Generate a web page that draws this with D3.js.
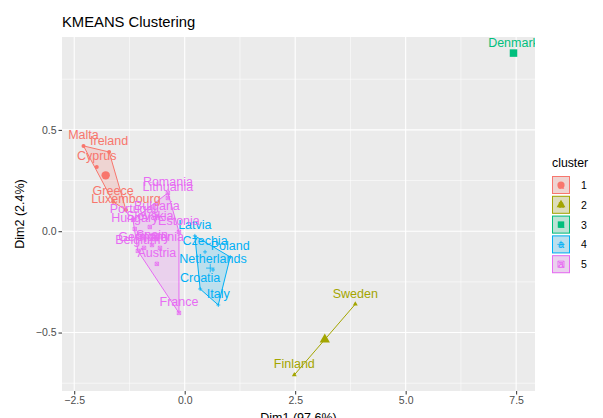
<!DOCTYPE html>
<html>
<head>
<meta charset="utf-8">
<script src="https://cdn.jsdelivr.net/npm/d3@7"></script>
<style>
  body { margin: 0; background: #fff; }
  text { font-family: "Liberation Sans", Arial, sans-serif; }
</style>
</head>
<body>
<svg id="svg-kmeans"></svg>
<script>
var width = 603,
    height = 418;

// PCA coordinates
var countries = ['Malta','Ireland','Cyprus','Greece','Luxembourg',
                 'Sweden','Finland',
                 'Denmark',
                 'Latvia','Czechia','Poland','Netherlands','Croatia','Italy',
                 'Romania','Lithuania','Bulgaria','Portugal','Slovakia','Hungary','Estonia',
                 'Slovenia','Belgium','Germany','Spain','Austria','France'];
var cluster = [1,1,1,1,1, 2,2, 3, 4,4,4,4,4,4, 5,5,5,5,5,5,5,5,5,5,5,5,5];
var dim1 = [-2.29,-1.71,-1.99,-1.62,-1.33,
            3.86,2.48,
            7.44,
            0.23,0.46,1.03,0.64,0.35,0.76,
            -0.38,-0.38,-0.63,-1.17,-0.79,-1.13,-0.13,
            -0.56,-1.06,-0.92,-0.74,-0.63,-0.13];
var dim2 = [0.421,0.391,0.317,0.145,0.105,
            -0.360,-0.709,
            0.879,
            -0.023,-0.102,-0.127,-0.191,-0.285,-0.364,
            0.189,0.164,0.075,0.056,0.021,0.011,-0.003,
            -0.082,-0.097,-0.082,-0.068,-0.161,-0.403];
var clusterIds = [1,2,3,4,5];
var clusterColors = ['#F8766D','#A3A500','#00BF7D','#00B0F6','#E76BF3'];
var xTicks = [-2.5, 0, 2.5, 5, 7.5];
var yTicks = [-0.5, 0, 0.5];

var panel = {left: 62, right: 535, top: 37, bottom: 391};

function padded(vals) {
  var mn = d3.min(vals), mx = d3.max(vals), pad = (mx - mn) * 0.05;
  return [mn - pad, mx + pad];
}

var x = d3.scaleLinear().domain(padded(dim1)).range([panel.left, panel.right]);
var y = d3.scaleLinear().domain(padded(dim2)).range([panel.bottom, panel.top]);
var color = d3.scaleOrdinal().domain(clusterIds).range(clusterColors);

var pts = countries.map(function(c, i) {
  return {name: c, cl: cluster[i], x: dim1[i], y: dim2[i]};
});

var svg = d3.select('#svg-kmeans')
  .attr('width', width)
  .attr('height', height);

svg.append('defs').append('clipPath').attr('id', 'panel-clip')
  .append('rect')
  .attr('x', panel.left).attr('y', panel.top)
  .attr('width', panel.right - panel.left)
  .attr('height', panel.bottom - panel.top);

// panel + grid
svg.append('rect')
  .attr('x', panel.left).attr('y', panel.top)
  .attr('width', panel.right - panel.left)
  .attr('height', panel.bottom - panel.top)
  .attr('fill', '#EBEBEB');

var grid = svg.append('g');
var xMinor = [], yMinor = [];
for (var i = 0; i < xTicks.length - 1; i++) xMinor.push((xTicks[i] + xTicks[i+1]) / 2);
xMinor.push(xTicks[0] - 1.25); xMinor.push(xTicks[xTicks.length-1] + 1.25);
for (var i = 0; i < yTicks.length - 1; i++) yMinor.push((yTicks[i] + yTicks[i+1]) / 2);
yMinor.push(yTicks[0] - 0.25); yMinor.push(yTicks[yTicks.length-1] + 0.25);

function inX(v) { return x(v) >= panel.left && x(v) <= panel.right; }
function inY(v) { return y(v) >= panel.top && y(v) <= panel.bottom; }

grid.selectAll('.xminor').data(xMinor.filter(inX)).enter().append('line')
  .attr('x1', d => x(d)).attr('x2', d => x(d))
  .attr('y1', panel.top).attr('y2', panel.bottom)
  .attr('stroke', '#fff').attr('stroke-width', 0.55);
grid.selectAll('.yminor').data(yMinor.filter(inY)).enter().append('line')
  .attr('y1', d => y(d)).attr('y2', d => y(d))
  .attr('x1', panel.left).attr('x2', panel.right)
  .attr('stroke', '#fff').attr('stroke-width', 0.55);
grid.selectAll('.xmajor').data(xTicks).enter().append('line')
  .attr('x1', d => x(d)).attr('x2', d => x(d))
  .attr('y1', panel.top).attr('y2', panel.bottom)
  .attr('stroke', '#fff').attr('stroke-width', 1.1);
grid.selectAll('.ymajor').data(yTicks).enter().append('line')
  .attr('y1', d => y(d)).attr('y2', d => y(d))
  .attr('x1', panel.left).attr('x2', panel.right)
  .attr('stroke', '#fff').attr('stroke-width', 1.1);

// axes
var xAxis = d3.axisBottom(x).tickValues(xTicks).tickFormat(d3.format('.1f')).tickSize(3.5).tickPadding(2);
var yAxis = d3.axisLeft(y).tickValues(yTicks).tickFormat(d3.format('.1f')).tickSize(3.5).tickPadding(2);

var gx = svg.append('g').attr('transform', 'translate(0,' + panel.bottom + ')').call(xAxis);
var gy = svg.append('g').attr('transform', 'translate(' + panel.left + ',0)').call(yAxis);
[gx, gy].forEach(function(g) {
  g.select('.domain').remove();
  g.selectAll('line').attr('stroke', '#333').attr('stroke-width', 1);
  g.selectAll('text').attr('fill', '#4D4D4D').style('font-size', '10.5px');
});

// hulls
var hulls = svg.append('g').attr('clip-path', 'url(#panel-clip)');
clusterIds.forEach(function(k) {
  var members = pts.filter(p => p.cl === k).map(p => [x(p.x), y(p.y)]);
  if (members.length >= 3) {
    hulls.append('path')
      .attr('d', 'M' + d3.polygonHull(members).join('L') + 'Z')
      .attr('fill', color(k)).attr('fill-opacity', 0.2)
      .attr('stroke', color(k)).attr('stroke-width', 1);
  } else if (members.length === 2) {
    hulls.append('path')
      .attr('d', 'M' + members.join('L'))
      .attr('fill', 'none')
      .attr('stroke', color(k)).attr('stroke-width', 1);
  }
});

// point shapes per cluster (ggplot shapes 19, 17, 15, 3, 7)
function shapePath(k, s) {
  if (k === 1) return d3.symbol(d3.symbolCircle, Math.PI * s * s)();
  if (k === 2) return d3.symbol(d3.symbolTriangle, s * s * 2.6)();
  if (k === 3) return d3.symbol(d3.symbolSquare, s * s * 3.2)();
  if (k === 4) return 'M' + (-s) + ',0L' + s + ',0M0,' + (-s) + 'L0,' + s;
  var h = s * 0.85;
  return 'M' + (-h) + ',' + (-h) + 'L' + h + ',' + (-h) + 'L' + h + ',' + h + 'L' + (-h) + ',' + h + 'Z' +
         'M' + (-h) + ',' + (-h) + 'L' + h + ',' + h + 'M' + h + ',' + (-h) + 'L' + (-h) + ',' + h;
}
function styleShape(sel, k) {
  if (k === 4 || k === 5) {
    sel.attr('fill', 'none').attr('stroke', color(k)).attr('stroke-width', 0.8);
  } else {
    sel.attr('fill', color(k)).attr('stroke', 'none');
  }
}

var marks = svg.append('g').attr('clip-path', 'url(#panel-clip)');
pts.forEach(function(p) {
  marks.append('path')
    .attr('d', shapePath(p.cl, 2))
    .attr('transform', 'translate(' + x(p.x) + ',' + y(p.y) + ')')
    .call(styleShape, p.cl);
});

// cluster centres
clusterIds.forEach(function(k) {
  var m = pts.filter(p => p.cl === k);
  var cx = d3.mean(m, p => p.x), cy = d3.mean(m, p => p.y);
  marks.append('path')
    .attr('d', shapePath(k, 4.2))
    .attr('transform', 'translate(' + x(cx) + ',' + y(cy) + ')')
    .call(styleShape, k);
});

// labels
marks.selectAll('.lbl').data(pts).enter().append('text')
  .attr('x', d => x(d.x))
  .attr('y', d => y(d.y) - 6.5)
  .attr('text-anchor', 'middle')
  .attr('fill', d => color(d.cl))
  .style('font-size', '12.5px')
  .text(d => d.name);

// titles
svg.append('text').attr('x', panel.left).attr('y', 27)
  .style('font-size', '14.8px').attr('fill', '#000')
  .text('KMEANS Clustering');
svg.append('text')
  .attr('x', (panel.left + panel.right) / 2).attr('y', 422)
  .attr('text-anchor', 'middle').style('font-size', '12.5px').attr('fill', '#000')
  .text('Dim1 (97.6%)');
svg.append('text')
  .attr('transform', 'translate(24,' + ((panel.top + panel.bottom) / 2) + ') rotate(-90)')
  .attr('text-anchor', 'middle').style('font-size', '12.5px').attr('fill', '#000')
  .text('Dim2 (2.4%)');

// legend
var legend = svg.append('g').attr('transform', 'translate(552,0)');
legend.append('text').attr('x', 0).attr('y', 167)
  .style('font-size', '12.3px').attr('fill', '#000').text('cluster');
clusterIds.forEach(function(k, i) {
  var cy = 185 + i * 19.8;
  var key = legend.append('g').attr('transform', 'translate(0,' + (cy - 9) + ')');
  key.append('rect').attr('width', 18).attr('height', 18).attr('fill', '#EBEBEB');
  key.append('rect').attr('x', 0.5).attr('y', 0.5).attr('width', 17).attr('height', 17)
    .attr('fill', color(k)).attr('fill-opacity', 0.2)
    .attr('stroke', color(k)).attr('stroke-width', 1);
  key.append('text').attr('x', 9).attr('y', 12.5).attr('text-anchor', 'middle')
    .attr('fill', color(k)).style('font-size', '11px').text('a');
  key.append('path').attr('d', shapePath(k, 3.6))
    .attr('transform', 'translate(9,9)')
    .call(styleShape, k);
  legend.append('text').attr('x', 29).attr('y', cy + 4)
    .style('font-size', '10.5px').attr('fill', '#000').text(k);
});
</script>
</body>
</html>
